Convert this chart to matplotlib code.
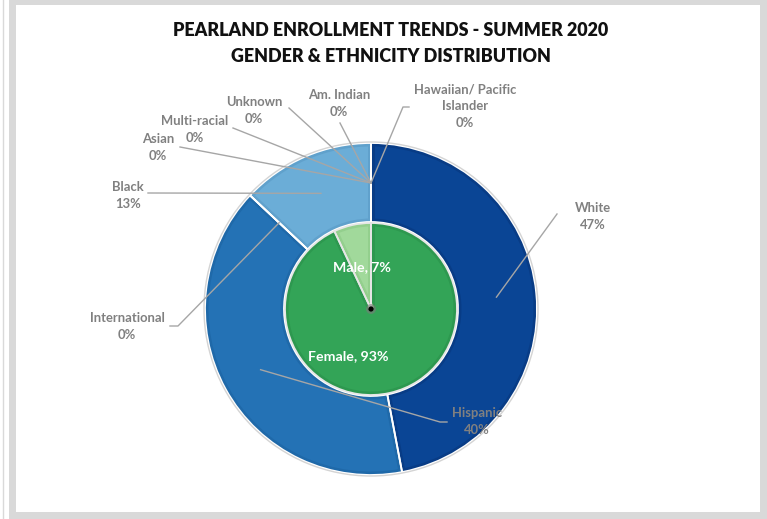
import matplotlib
matplotlib.use("Agg")
import matplotlib.pyplot as plt
from matplotlib.patches import Rectangle, Circle, Wedge, Polygon
import numpy as np

# ---------------- data ----------------
eth_labels = ["White", "Hispanic", "International", "Black", "Asian",
              "Multi-racial", "Unknown", "Am. Indian", "Hawaiian/ Pacific\nIslander"]
eth_values = [47, 40, 0, 13, 0, 0, 0, 0, 0]
gender_labels = ["Female", "Male"]
gender_values = [93, 7]
title_lines = ["PEARLAND ENROLLMENT TRENDS - SUMMER 2020", "GENDER & ETHNICITY DISTRIBUTION"]

# ---------------- style ----------------
eth_colors = ["#0a4595", "#2472b5", "#2472b5", "#6badd7", "#6badd7",
              "#6badd7", "#6badd7", "#6badd7", "#0a4595"]
eth_edge = ["#083c86", "#1f69a9", "#1f69a9", "#60a1cc", "#60a1cc",
            "#60a1cc", "#60a1cc", "#60a1cc", "#083c86"]
gen_colors = ["#33a457", "#a1d99b"]
gen_edge = ["#2d984f", "#93cf8d"]
FONT = ["Lato", "DejaVu Sans"]
LABEL_GREY = "#808080"

W, H = 767, 519
CX, CY = 371, 309          # pie centre (pixels, y down)
R_OUT, R_IN = 166, 86
RING_W = R_OUT - R_IN - 1
BAND = 3.5
LINE_STEP = 17

def P(x, y):
    return (x, H - y)

fig = plt.figure(figsize=(W / 100, H / 100), dpi=100)
ax = fig.add_axes([0, 0, 1, 1])

# frame
ax.add_patch(Rectangle(P(9, 519), 758, 519, facecolor="#d9d9d9", edgecolor="none", zorder=0))
ax.add_patch(Rectangle(P(16, 512), 744, 507, facecolor="white", edgecolor="none", zorder=0.5))
ax.plot([3, 3], [0, H], color="#d9d9d9", lw=1, zorder=0.6)

center = np.array(P(CX, CY), dtype=float)

def radial_bands(w, r1, r2, color, z):
    for th, sgn in ((w.theta1, 1), (w.theta2, -1)):
        t = np.deg2rad(th)
        u = np.array([np.cos(t), np.sin(t)])
        n = sgn * np.array([-np.sin(t), np.cos(t)])
        pts = [center + r1 * u, center + r2 * u,
               center + r2 * u + BAND * n, center + r1 * u + BAND * n]
        ax.add_patch(Polygon(pts, closed=True, facecolor=color, edgecolor="none", zorder=z))

# outer ring
ow, _ = ax.pie(eth_values, radius=R_OUT, center=tuple(center), startangle=90,
               counterclock=False, colors=eth_colors,
               wedgeprops=dict(width=RING_W, linewidth=0))
for w, ec in zip(ow, eth_edge):
    if w.theta2 - w.theta1 > 0.01:
        ax.add_patch(Wedge(tuple(center), R_OUT, w.theta1, w.theta2, width=BAND,
                           facecolor=ec, edgecolor="none", zorder=2))
        ax.add_patch(Wedge(tuple(center), R_OUT - RING_W + BAND, w.theta1, w.theta2, width=BAND,
                           facecolor=ec, edgecolor="none", zorder=2))
        radial_bands(w, R_OUT - RING_W, R_OUT, ec, 2)
ax.pie(eth_values, radius=R_OUT, center=tuple(center), startangle=90, counterclock=False,
       colors=["none"] * len(eth_values),
       wedgeprops=dict(width=RING_W, edgecolor="white", linewidth=1.3, facecolor="none", zorder=3))
ax.add_patch(Circle(tuple(center), R_OUT + 1.0, facecolor="none", edgecolor="#d4d4d4", lw=1.0, zorder=3))

# inner pie
gw, _ = ax.pie(gender_values, radius=R_IN, center=tuple(center), startangle=90,
               counterclock=False, colors=gen_colors, wedgeprops=dict(linewidth=0))
for w, ec in zip(gw, gen_edge):
    w.set_zorder(4)
    ax.add_patch(Wedge(tuple(center), R_IN, w.theta1, w.theta2, width=BAND,
                       facecolor=ec, edgecolor="none", zorder=4.5))
    radial_bands(w, 0, R_IN, ec, 4.5)
ax.pie(gender_values, radius=R_IN, center=tuple(center), startangle=90, counterclock=False,
       colors=["none"] * 2,
       wedgeprops=dict(edgecolor="#e6e6e6", linewidth=1.3, facecolor="none", zorder=5))
ax.add_patch(Circle(tuple(center), 5, facecolor="#7a7a7a", edgecolor="none", zorder=5.5, alpha=0.6))
ax.add_patch(Circle(tuple(center), 2.6, facecolor="black", edgecolor="none", zorder=6))

ax.set_xlim(0, W)
ax.set_ylim(0, H)
ax.set_aspect("equal")
ax.axis("off")

# title
for i, t in enumerate(title_lines):
    ax.text(*P(391, 31 + 26 * i), t, ha="center", va="center", fontsize=12.9,
            fontweight="heavy", family=FONT, color="#111111")

# gender labels
ax.text(*P(362, 267), f"{gender_labels[1]}, {gender_values[1]}%", ha="center", va="center",
        fontsize=10.2, fontweight="bold", family=FONT, color="white", zorder=7)
ax.text(*P(348, 356), f"{gender_labels[0]}, {gender_values[0]}%", ha="center", va="center",
        fontsize=10.2, fontweight="bold", family=FONT, color="white", zorder=7)

# ethnicity labels with leader lines
total = sum(eth_values)
cum = np.cumsum([0] + eth_values[:-1])
r_mid = (R_OUT + R_IN) / 2
# layout: text centre x, first-line y, line end, optional tick end (pixels)
layout = {
    "White": ((593, 208), (557, 214), None),
    "Hispanic": ((477, 413), (440, 422), (447, 422)),
    "International": ((127, 318), (178, 326), (170, 326)),
    "Black": ((128, 187), (148, 193), None),
    "Asian": ((158, 139), (180, 147), None),
    "Multi-racial": ((195, 121), (233, 128), None),
    "Unknown": ((254, 102), (289, 108), None),
    "Am. Indian": ((339, 95), (340, 123), None),
    "Hawaiian/ Pacific\nIslander": ((465, 89), (403, 107), (409, 107)),
}
for lab, v, c0 in zip(eth_labels, eth_values, cum):
    ang = np.deg2rad(90 - 360 * (c0 + v / 2) / total)
    ax_, ay_ = center[0] + r_mid * np.cos(ang), center[1] + r_mid * np.sin(ang)
    (tx, ty), (lx, ly), tick = layout[lab]
    xs = [ax_, lx]
    ys = [ay_, H - ly]
    if tick is not None:
        xs.append(tick[0]); ys.append(H - tick[1])
    ax.plot(xs, ys, color="#a6a6a6", lw=1.0, zorder=8)
    lines = lab.split("\n") + [f"{v}%"]
    for k, s in enumerate(lines):
        ax.text(*P(tx, ty + LINE_STEP * k), s, ha="center", va="center", fontsize=9.4,
                fontweight="bold", family=FONT, color=LABEL_GREY, zorder=9)

fig.savefig("out.png", dpi=100)
